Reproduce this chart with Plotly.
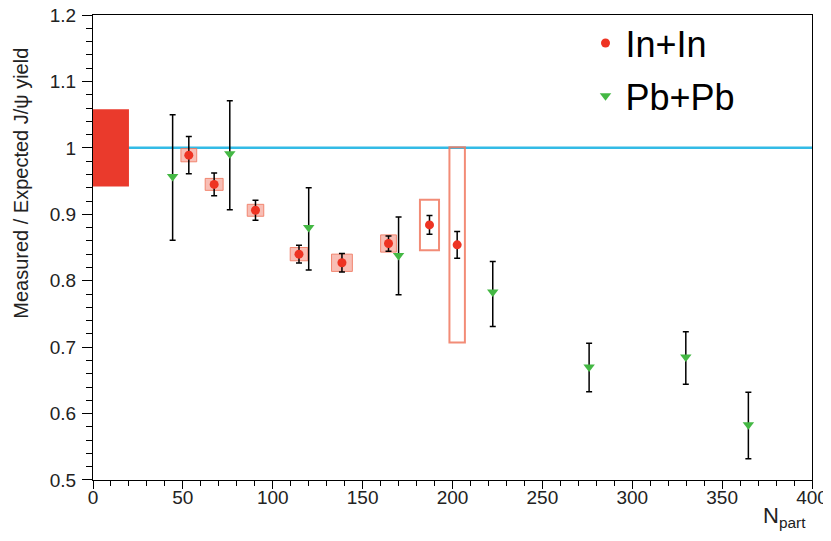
import plotly.graph_objects as go

# ---- data ----
inin_x = [53.3, 67.4, 90.4, 114.6, 138.5, 164.4, 187.2, 202.6]
inin_y = [0.989, 0.945, 0.906, 0.840, 0.827, 0.856, 0.884, 0.854]
inin_err = [0.028, 0.017, 0.015, 0.0135, 0.014, 0.0115, 0.014, 0.020]
inin_sys_y = [0.010, 0.009, 0.009, 0.010, 0.013, 0.013, 0.038, 0.147]
inin_sys_x = [4.4, 5.0, 4.6, 4.9, 5.8, 4.4, 5.3, 4.3]

pbpb_x = [44.3, 76.1, 120.0, 170.0, 222.4, 276.0, 329.8, 364.6]
pbpb_y = [0.957, 0.991, 0.880, 0.838, 0.783, 0.670, 0.685, 0.583]
pbpb_err_plus = [0.093, 0.080, 0.060, 0.058, 0.046, 0.036, 0.038, 0.049]
pbpb_err_minus = [0.096, 0.084, 0.064, 0.059, 0.052, 0.037, 0.041, 0.051]

global_sys_x = [0, 20]
global_sys_y = [0.942, 1.058]
reference_level = 1.0

y_tickvals = [0.5, 0.6, 0.7, 0.8, 0.9, 1.0, 1.1, 1.2]
y_ticktext = ["0.5", "0.6", "0.7", "0.8", "0.9", "1", "1.1", "1.2"]
x_tickvals = [0, 50, 100, 150, 200, 250, 300, 350, 400]

# box style per In+In point (filled for the first six, outline only for the rest)
box_filled = [True, True, True, True, True, True, False, False]

FONT = "Liberation Sans, Arial, Helvetica, sans-serif"
RED = "#EE3322"
GREEN = "#44B844"
CYAN = "#33BBE6"

fig = go.Figure()

shapes = []
shapes.append(dict(type="rect", xref="x", yref="y",
                   x0=global_sys_x[0], x1=global_sys_x[1],
                   y0=global_sys_y[0], y1=global_sys_y[1],
                   fillcolor="#EA3A2C", line=dict(width=0), layer="below"))
for xv, yv, sx, sy, filled in zip(inin_x, inin_y, inin_sys_x, inin_sys_y, box_filled):
    shapes.append(dict(type="rect", xref="x", yref="y",
                       x0=xv - sx, x1=xv + sx, y0=yv - sy, y1=yv + sy,
                       fillcolor="rgba(240,110,90,0.45)" if filled else "rgba(0,0,0,0)",
                       line=dict(color="rgba(240,120,95,0.85)", width=2 if not filled else 1),
                       layer="below"))
shapes.append(dict(type="line", xref="paper", yref="y", x0=0, x1=1,
                   y0=reference_level, y1=reference_level,
                   line=dict(color=CYAN, width=2.5), layer="below"))

fig.add_trace(go.Scatter(
    x=inin_x, y=inin_y, mode="markers", name="In+In", legendgroup="inin",
    marker=dict(symbol="circle", size=9, color=RED),
    error_y=dict(type="data", array=inin_err, color="black", thickness=1.5, width=3),
))
fig.add_trace(go.Scatter(
    x=pbpb_x, y=pbpb_y, mode="markers", name="Pb+Pb", legendgroup="pbpb",
    marker=dict(symbol="triangle-down", size=10, color=GREEN),
    error_y=dict(type="data", array=pbpb_err_plus, arrayminus=pbpb_err_minus,
                 color="black", thickness=1.5, width=3),
))

axis_common = dict(
    showgrid=False, zeroline=False, showline=True, linecolor="black", linewidth=1,
    mirror=True, ticks="outside", tickcolor="black", tickwidth=1, automargin=False,
    ticklabeloverflow="allow",
    tickfont=dict(family=FONT, size=19, color="#222222"),
)

fig.update_xaxes(range=[0, 400.001], tickvals=x_tickvals, ticklen=8, ticklabelstandoff=-8,
                 minor=dict(dtick=10, ticklen=5, ticks="outside", tickcolor="black"),
                 **axis_common)
fig.update_yaxes(range=[0.49999, 1.20001], tickvals=y_tickvals, ticktext=y_ticktext, ticklen=10,
                 ticklabelstandoff=2,
                 minor=dict(dtick=0.02, ticklen=6, ticks="outside", tickcolor="black"),
                 **axis_common)

# the page body has an 8px margin, so the figure is sized to fit the 831x541 window
fig.update_layout(
    width=823, height=533,
    margin=dict(l=85, r=19, t=7, b=61, autoexpand=False),
    paper_bgcolor="white", plot_bgcolor="white",
    shapes=shapes,
    showlegend=True,
    legend=dict(x=0.685, y=1.004, xanchor="left", yanchor="top",
                font=dict(family=FONT, size=36, color="black"),
                traceorder="grouped", tracegroupgap=3,
                bgcolor="rgba(0,0,0,0)", borderwidth=0),
    annotations=[
        dict(text="Measured / Expected J/ψ yield", textangle=-90,
             xref="paper", yref="paper", x=-0.100, y=0.933,
             xanchor="center", yanchor="top", showarrow=False,
             font=dict(family=FONT, size=20, color="#222222")),
        dict(text="N<sub>part</sub>", xref="paper", yref="paper",
             x=0.995, y=-0.045, xanchor="right", yanchor="top", showarrow=False,
             font=dict(family=FONT, size=22, color="#222222")),
    ],
)

fig.write_html("out.html")
